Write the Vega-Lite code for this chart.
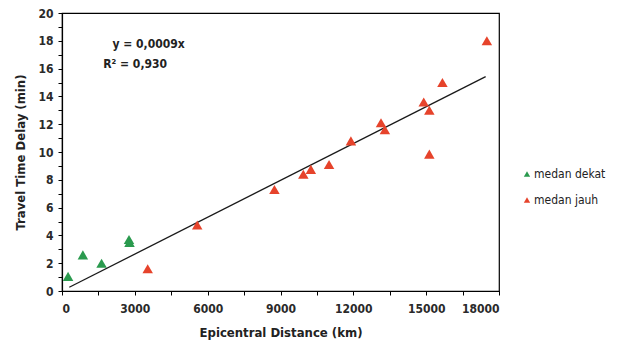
{
  "$schema": "https://vega.github.io/schema/vega-lite/v6.json",
  "width": 437,
  "height": 278,
  "autosize": "none",
  "padding": {"left": 62, "top": 13, "right": 118, "bottom": 56},
  "background": "#ffffff",
  "config": {
    "view": {"stroke": "#000000", "strokeWidth": 1.2},
    "font": "DejaVu Sans Condensed",
    "axis": {
      "domainColor": "#000000",
      "domainWidth": 1.2,
      "tickColor": "#000000",
      "tickSize": 4,
      "grid": false,
      "labelOverlap": false,
      "labelFont": "DejaVu Sans Condensed",
      "labelFontSize": 12,
      "labelFontWeight": "bold",
      "labelColor": "#2a2a2a",
      "titleFont": "DejaVu Sans Condensed",
      "titleFontSize": 13,
      "titleFontWeight": "bold",
      "titleColor": "#222222"
    }
  },
  "encoding": {
    "x": {
      "field": "distance", "type": "quantitative",
      "scale": {"domain": [0, 18000], "nice": false},
      "axis": {
        "title": "Epicentral Distance (km)",
        "values": [0,1500,3000,4500,6000,7500,9000,10500,12000,13500,15000,16500,18000],
        "format": "d",
        "labelExpr": "datum.value % 3000 === 0 ? datum.label : ''",
        "labelOverlap": false,
        "labelPadding": 8,
        "titlePadding": 12
      }
    },
    "y": {
      "field": "delay", "type": "quantitative",
      "scale": {"domain": [0, 20], "nice": false},
      "axis": {
        "title": "Travel Time Delay (min)",
        "values": [0,1,2,3,4,5,6,7,8,9,10,11,12,13,14,15,16,17,18,19,20],
        "format": "d",
        "labelExpr": "datum.value % 2 === 0 ? datum.label : ''",
        "labelOverlap": false,
        "labelPadding": 5,
        "titlePadding": 10
      }
    }
  },
  "layer": [
    {
      "data": {"values": [
        {"distance": 300, "delay": 0.27},
        {"distance": 17450, "delay": 15.42}
      ]},
      "mark": {"type": "line", "color": "#1a1a1a", "strokeWidth": 1.3}
    },
    {
      "data": {"values": [
        {"group": "medan dekat", "distance": 250, "delay": 1.05},
        {"group": "medan dekat", "distance": 860, "delay": 2.6},
        {"group": "medan dekat", "distance": 1630, "delay": 2.0},
        {"group": "medan dekat", "distance": 2780, "delay": 3.5},
        {"group": "medan dekat", "distance": 2760, "delay": 3.7},
        {"group": "medan jauh", "distance": 3530, "delay": 1.6},
        {"group": "medan jauh", "distance": 5570, "delay": 4.75},
        {"group": "medan jauh", "distance": 8750, "delay": 7.3},
        {"group": "medan jauh", "distance": 9940, "delay": 8.4},
        {"group": "medan jauh", "distance": 10250, "delay": 8.75},
        {"group": "medan jauh", "distance": 11000, "delay": 9.1},
        {"group": "medan jauh", "distance": 11900, "delay": 10.8},
        {"group": "medan jauh", "distance": 13140, "delay": 12.1},
        {"group": "medan jauh", "distance": 13300, "delay": 11.6},
        {"group": "medan jauh", "distance": 14900, "delay": 13.6},
        {"group": "medan jauh", "distance": 15130, "delay": 13.0},
        {"group": "medan jauh", "distance": 15130, "delay": 9.85},
        {"group": "medan jauh", "distance": 15670, "delay": 15.0},
        {"group": "medan jauh", "distance": 17500, "delay": 18.0}
      ]},
      "mark": {"type": "point", "shape": "triangle-up", "filled": true, "opacity": 1, "size": 110},
      "encoding": {
        "color": {
          "field": "group", "type": "nominal",
          "scale": {"domain": ["medan dekat", "medan jauh"], "range": ["#2a9a4e", "#e6432b"]},
          "legend": {
            "title": null,
            "orient": "none",
            "legendX": 459,
            "legendY": 155,
            "symbolType": "triangle-up",
            "symbolSize": 40,
            "symbolOpacity": 1,
            "labelFont": "DejaVu Sans Condensed",
            "labelFontSize": 12,
            "labelColor": "#222222",
            "rowPadding": 14,
            "labelOffset": 1
          }
        }
      }
    },
    {
      "data": {"values": [
        {"label": "y = 0,0009x", "distance": 2080, "delay": 17.75},
        {"label": "R² = 0,930", "distance": 1700, "delay": 16.35}
      ]},
      "mark": {"type": "text", "align": "left", "baseline": "middle", "fontSize": 12, "fontWeight": "bold", "color": "#222222", "font": "DejaVu Sans Condensed"},
      "encoding": {
        "text": {"field": "label"}
      }
    }
  ]
}
